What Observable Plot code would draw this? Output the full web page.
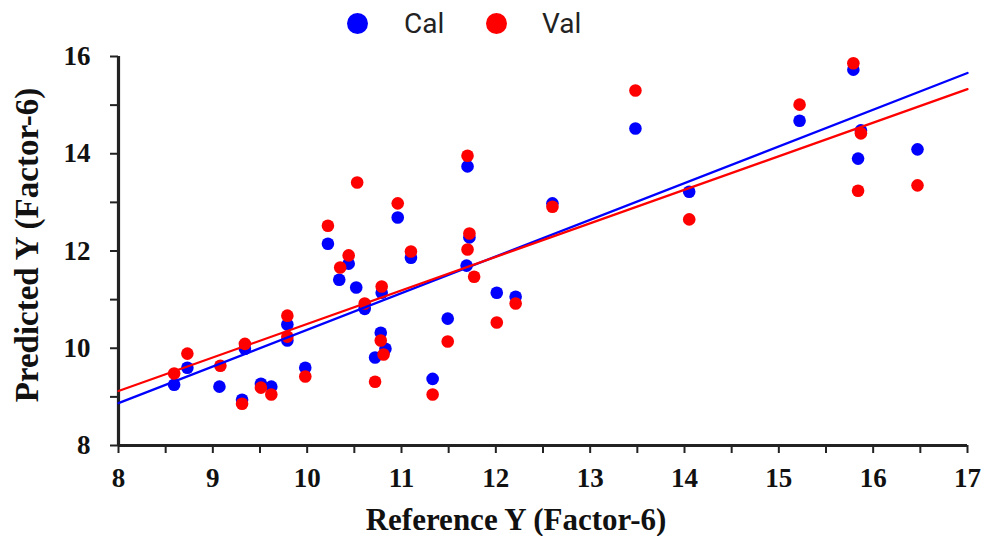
<!DOCTYPE html>
<html>
<head>
<meta charset="utf-8">
<script src="https://cdn.jsdelivr.net/npm/d3@7"></script>
<script src="https://cdn.jsdelivr.net/npm/@observablehq/plot@0.6"></script>
<style>
  body { margin: 0; background: #fff; }
  #legend { position: relative; width: 984px; height: 40px; font-family: Roboto, "Liberation Sans", sans-serif; }
  .sw { position: absolute; width: 21px; height: 21px; border-radius: 50%; top: 13px; }
  .lb { position: absolute; top: 4px; font-size: 28px; line-height: 40px; color: #222; }
  #chart svg { display: block; }
</style>
</head>
<body>
<div id="legend"></div>
<div id="chart"></div>
<script>
// ---- data ----
const seriesNames = ["Cal", "Val"];
const seriesColors = ["#0000ff", "#ff0000"];

const calX = [8.59, 8.73, 9.07, 9.31, 9.34, 9.51, 9.62, 9.79, 9.79, 9.98, 10.22, 10.34, 10.44, 10.52, 10.61, 10.79, 10.78, 10.83, 10.72, 10.96, 11.10, 11.33, 11.49, 11.70, 11.69, 11.72, 12.01, 12.21, 12.60, 13.48, 14.05, 15.22, 15.79, 15.87, 15.84, 16.47];
const calY = [9.25, 9.60, 9.21, 8.94, 9.99, 9.27, 9.21, 10.49, 10.16, 9.60, 12.15, 11.41, 11.74, 11.25, 10.81, 11.14, 10.32, 9.99, 9.81, 12.69, 11.86, 9.37, 10.61, 13.74, 11.70, 12.28, 11.14, 11.06, 12.98, 14.52, 13.22, 14.68, 15.73, 14.48, 13.90, 14.09];

const valX = [8.59, 8.73, 9.08, 9.31, 9.34, 9.51, 9.62, 9.79, 9.79, 9.98, 10.22, 10.35, 10.44, 10.53, 10.61, 10.79, 10.78, 10.81, 10.72, 10.96, 11.10, 11.33, 11.49, 11.70, 11.70, 11.72, 11.77, 12.01, 12.21, 12.60, 13.48, 14.05, 15.22, 15.79, 15.87, 15.84, 16.47];
const valY = [9.48, 9.89, 9.64, 8.86, 10.09, 9.19, 9.05, 10.67, 10.24, 9.42, 12.52, 11.66, 11.91, 13.41, 10.92, 11.27, 10.16, 9.87, 9.31, 12.98, 11.99, 9.05, 10.14, 13.96, 12.03, 12.36, 11.47, 10.53, 10.92, 12.91, 15.30, 12.65, 15.01, 15.86, 14.42, 13.24, 13.35];

// fitted lines (end values)
const fitX = [8, 17];
const calFit = [8.87, 15.66];
const valFit = [9.12, 15.33];

const xTicks = d3.range(8, 17.001, 0.5);
const xTickLabels = [8, 9, 10, 11, 12, 13, 14, 15, 16, 17];
const yTicks = [8, 9, 10, 11, 12, 13, 14, 15, 16];
const yTickLabels = [8, 10, 12, 14, 16];
const xTitle = "Reference Y (Factor-6)";
const yTitle = "Predicted Y (Factor-6)";

// ---- legend ----
const legend = document.getElementById("legend");
seriesNames.forEach((name, i) => {
  const sw = document.createElement("div");
  sw.className = "sw";
  sw.style.left = (347 + i * 139) + "px";
  sw.style.background = seriesColors[i];
  legend.appendChild(sw);
  const lb = document.createElement("div");
  lb.className = "lb";
  lb.style.left = (404 + i * 138) + "px";
  lb.textContent = name;
  legend.appendChild(lb);
});

// ---- chart ----
const cal = calX.map((x, i) => ({x, y: calY[i]}));
const val = valX.map((x, i) => ({x, y: valY[i]}));
const calLine = fitX.map((x, i) => ({x, y: calFit[i]}));
const valLine = fitX.map((x, i) => ({x, y: valFit[i]}));

const serif = "'Liberation Serif', 'Times New Roman', serif";

const chart = Plot.plot({
  width: 984,
  height: 496,
  marginLeft: 118,
  marginRight: 17,
  marginTop: 16,
  marginBottom: 91,
  x: {domain: [8, 17]},
  y: {domain: [8, 16]},
  style: {fontFamily: serif, background: "#fff"},
  marks: [
    Plot.axisX({ticks: xTicks, tickSize: 8, text: null, stroke: "#222", strokeWidth: 2, label: null}),
    Plot.axisX({ticks: xTickLabels, tickSize: 0, tickPadding: 22, fontSize: 27, fontWeight: "bold", fontFamily: serif, fill: "#111", label: null}),
    Plot.axisY({ticks: yTicks, tickSize: 8, text: null, stroke: "#222", strokeWidth: 2, label: null}),
    Plot.axisY({ticks: yTickLabels, tickSize: 0, tickPadding: 28, fontSize: 27, fontWeight: "bold", fontFamily: serif, fill: "#111", label: null}),
    Plot.ruleY([8], {stroke: "#222", strokeWidth: 3.2}),
    Plot.ruleX([8], {stroke: "#222", strokeWidth: 3.2}),
    Plot.dot(cal, {x: d => d.x, y: d => d.y, r: 6.3, fill: seriesColors[0], stroke: "none"}),
    Plot.dot(val, {x: d => d.x, y: d => d.y, r: 6.3, fill: seriesColors[1], stroke: "none"}),
    Plot.line(calLine, {x: d => d.x, y: d => d.y, stroke: seriesColors[0], strokeWidth: 2.3}),
    Plot.line(valLine, {x: d => d.x, y: d => d.y, stroke: seriesColors[1], strokeWidth: 2.3}),
    Plot.text([xTitle], {frameAnchor: "bottom", textAnchor: "middle", lineAnchor: "middle", dy: 75, dx: -27, fontSize: 31, fontWeight: "bold", fontFamily: serif, fill: "#111"}),
    Plot.text([yTitle], {frameAnchor: "left", textAnchor: "middle", lineAnchor: "middle", rotate: -90, dx: -91, dy: -6, fontSize: 33, fontWeight: "bold", fontFamily: serif, fill: "#111"})
  ]
});
document.getElementById("chart").appendChild(chart);
</script>
</body>
</html>
